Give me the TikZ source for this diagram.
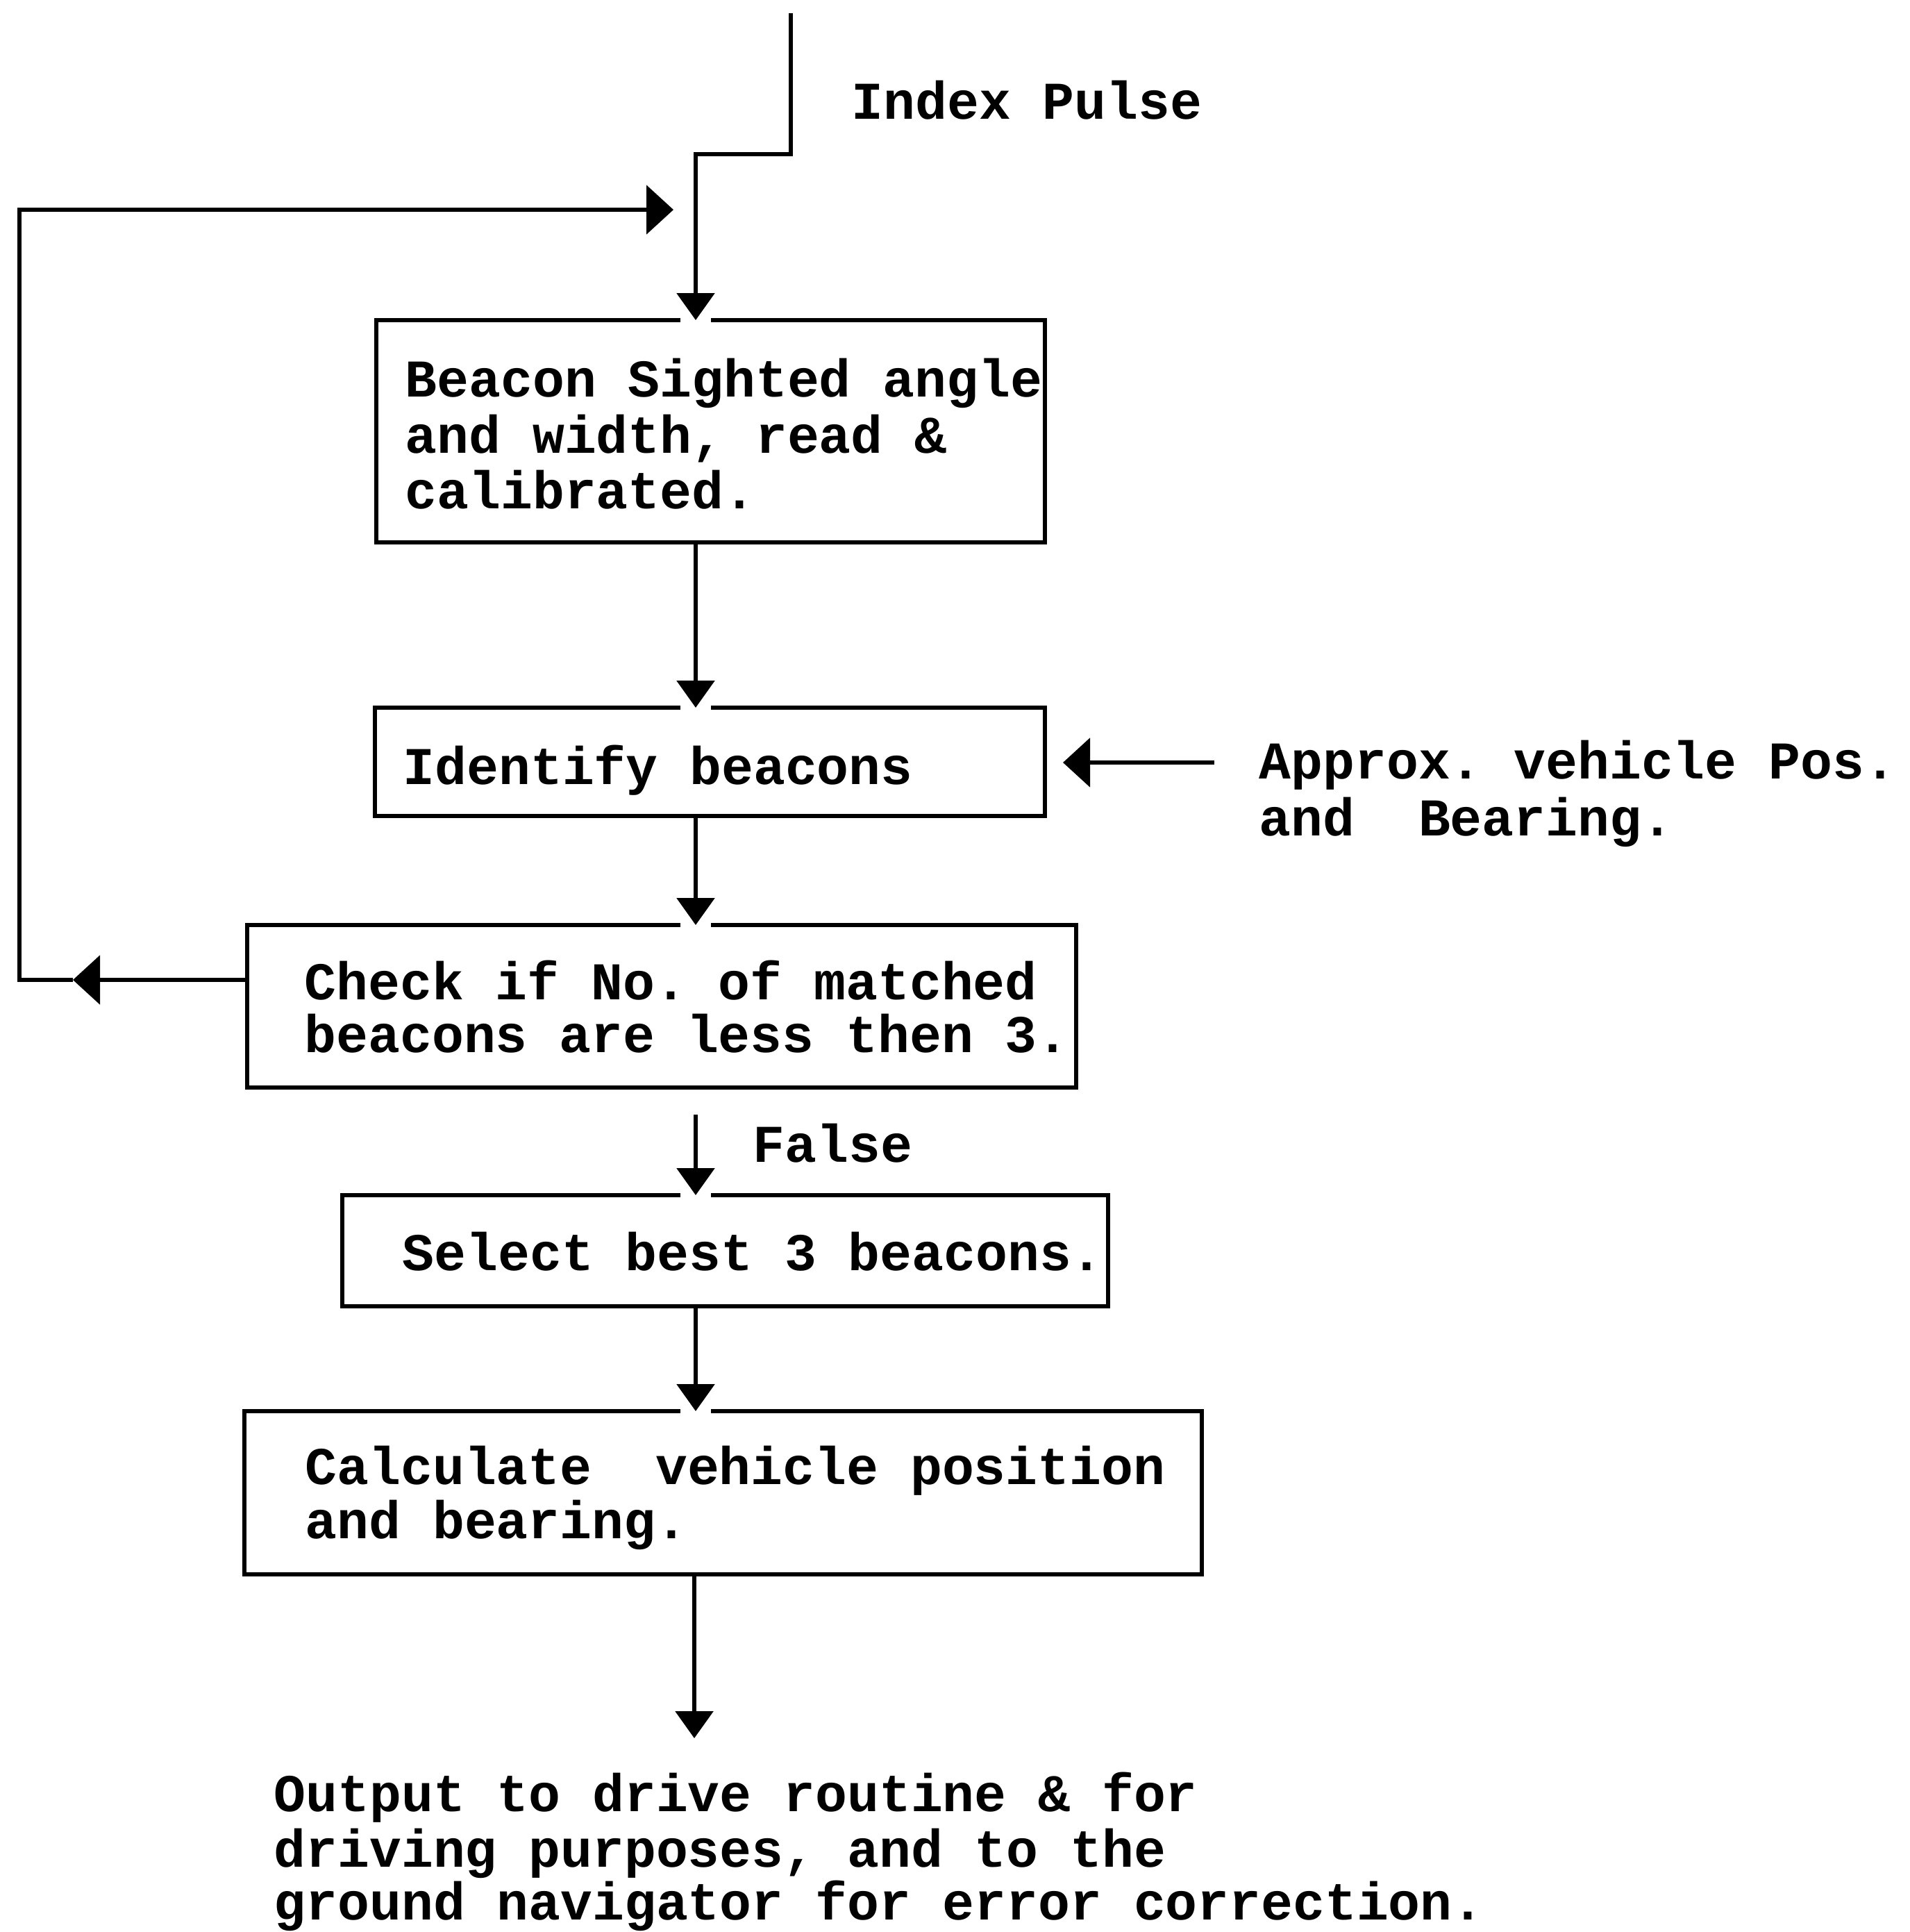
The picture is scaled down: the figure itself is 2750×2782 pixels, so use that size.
\documentclass[tikz,border=0pt]{standalone}
\usepackage{fontspec}
\setmonofont{Liberation Mono}
\usetikzlibrary{arrows.meta}
\begin{document}
\begin{tikzpicture}[x=0.1mm, y=-0.1mm,
  box/.style={draw, line width=0.6mm, inner sep=0pt, outer sep=0pt},
  txt/.style={anchor=base west, inner sep=0pt,
    font=\ttfamily\bfseries\fontsize{21.75}{22.5}\selectfont\frenchspacing},
  link/.style={line width=0.6mm},
  down/.style={link, -{Triangle[width=5.4mm,length=3.9mm]}},
  side/.style={link, -{Triangle[width=7mm,length=3.9mm]}},
  notch/.style={fill=white},
]
\useasboundingbox (0,0) rectangle (2750,2782);

% process boxes
\node[box, minimum width=96.3mm, minimum height=32mm]   (b1) at (1023.5,621) {};
\node[box, minimum width=96.5mm, minimum height=15.6mm] (b2) at (1022.5,1097) {};
\node[box, minimum width=119.4mm, minimum height=23.4mm] (b3) at (953,1449) {};
\node[box, minimum width=110.3mm, minimum height=16mm]  (b4) at (1044.5,1801) {};
\node[box, minimum width=137.9mm, minimum height=23.5mm] (b5) at (1041.5,2149.5) {};

% texts
\node[txt] (tin) at (1226,171) {Index Pulse};
\node[txt] (t1a) at (583,571) {Beacon Sighted angle};
\node[txt] (t1b) at (583,652) {and width, read \&};
\node[txt] (t1c) at (583,732) {calibrated.};
\node[txt] (t2) at (580,1129) {Identify beacons};
\node[txt] (tpa) at (1813,1121) {Approx. vehicle Pos.};
\node[txt] (tpb) at (1813,1203) {and~~Bearing.};
\node[txt] (t3a) at (438,1439) {Check if No. of matched};
\node[txt] (t3b) at (438,1515) {beacons are less then 3.};
\node[txt] (tf) at (1084,1673) {False};
\node[txt] (t4) at (579,1829) {Select best 3 beacons.};
\node[txt] (t5a) at (439,2137) {Calculate~~vehicle position};
\node[txt] (t5b) at (439,2215) {and bearing.};
\node[txt] (toa) at (394,2608) {Output to drive routine \& for};
\node[txt] (tob) at (394,2688) {driving purposes, and to the};
\node[txt] (toc) at (394,2764) {ground navigator for error correction.};

% helper points
\coordinate (in) at (1139,19);
\coordinate (jog) at (1002,222);
\coordinate (fstart) at (1002,1605);
\coordinate (out) at (1000,2503);
\coordinate (fby) at (0,1411);
\coordinate (fbtip) at (105,1411);
\coordinate (corner) at (28,1411);
\coordinate (rettip) at (970,302);
\coordinate (apx) at (1749,1098);
\coordinate (apxtip) at (1531,1098);

% small breaks in the box tops where the arrows enter
\foreach \b in {b1,b2,b3,b4,b5}
  \fill[notch] (\b.north -| jog) ++(-22,-7) rectangle ++(44,14);

% main flow
\draw[down] (in) |- (jog) -- (b1.north -| jog);
\draw[down] (b1.south -| jog) -- (b2.north -| jog);
\draw[down] (b2.south -| jog) -- (b3.north -| jog);
\draw[down] (fstart) -- (b4.north -| fstart);
\draw[down] (b4.south -| jog) -- (b5.north -| jog);
\draw[down] (b5.south -| out) -- (out);

% feedback loop
\draw[side] (b3.west |- fby) -- (fbtip);
\draw[side] (fbtip) -- (corner) |- (rettip);

% external input
\draw[side] (apx) -- (apxtip);
\end{tikzpicture}
\end{document}
